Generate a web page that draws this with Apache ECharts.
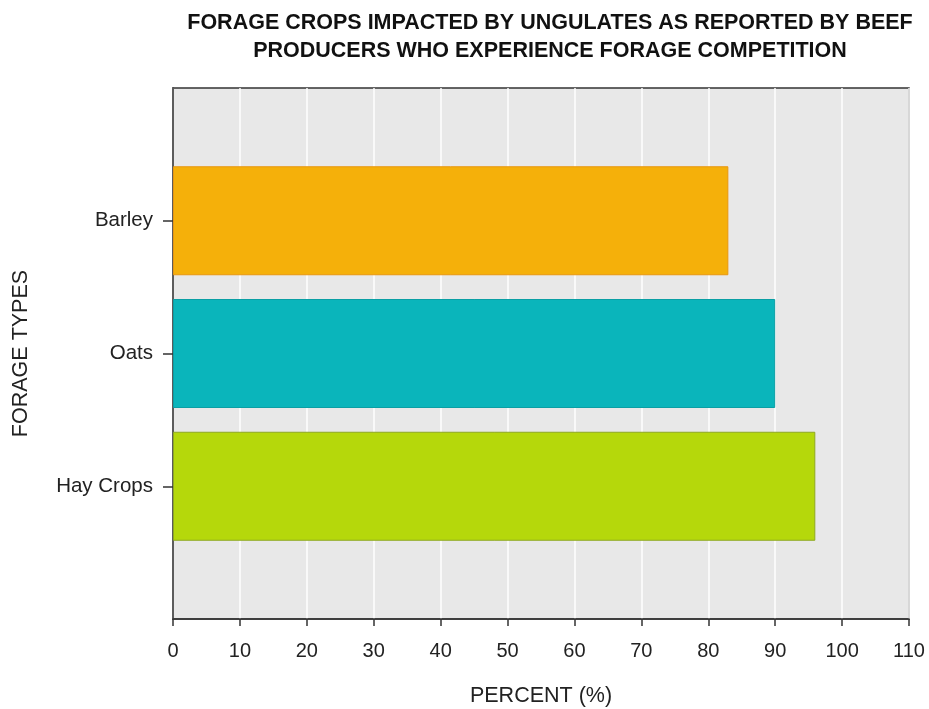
<!DOCTYPE html>
<html>
<head>
<meta charset="utf-8">
<script src="https://cdn.jsdelivr.net/npm/echarts@6/dist/echarts.min.js"></script>
<style>html,body{margin:0;padding:0;background:#fff;}#c{width:929px;height:709px;}</style>
</head>
<body>
<div id="c"></div>
<script>
const categories = ['', 'Hay Crops', 'Oats', 'Barley', ''];
const values = [null, 96, 90, 83, null];
const xTicks = [0, 10, 20, 30, 40, 50, 60, 70, 80, 90, 100, 110];
const barColors = ['#000', '#B5D80B', '#0AB5BB', '#F5B00A', '#000'];
const barBorders = ['#000', '#8FA820', '#0A9FA4', '#E8960F', '#000'];

const FONT = '"Liberation Sans", Arial, sans-serif';
const chart = echarts.init(document.getElementById('c'), null, {renderer: 'canvas'});
chart.setOption({
  animation: false,
  backgroundColor: '#ffffff',
  title: {
    text: 'FORAGE CROPS IMPACTED BY UNGULATES AS REPORTED BY BEEF\nPRODUCERS WHO EXPERIENCE FORAGE COMPETITION',
    left: 545, top: 4, textAlign: 'center',
    textStyle: {fontFamily: FONT, fontWeight: 'bold', fontSize: 21.5, color: '#111', lineHeight: 28}
  },
  grid: {left: 173, right: 20, top: 88, bottom: 90, show: true, backgroundColor: '#E8E8E8', borderColor: '#333', borderWidth: 1.5, outerBoundsMode: 'none', containLabel: false},
  xAxis: {
    type: 'value', min: xTicks[0], max: xTicks[xTicks.length - 1], interval: 10,
    name: 'PERCENT (%)', nameLocation: 'middle', nameGap: 66,
    nameTextStyle: {fontFamily: FONT, fontSize: 21.5, color: '#222'},
    axisLine: {show: true, lineStyle: {color: '#333', width: 1.5}},
    axisTick: {show: true, length: 7, lineStyle: {color: '#333', width: 1.5}},
    axisLabel: {fontFamily: FONT, fontSize: 20, color: '#222', margin: 22},
    splitLine: {show: true, lineStyle: {color: '#ffffff', width: 1.5}}
  },
  yAxis: {
    type: 'category', data: categories, boundaryGap: false,
    name: 'FORAGE TYPES', nameLocation: 'middle', nameGap: 141, nameRotate: 90,
    nameTextStyle: {fontFamily: FONT, fontSize: 21.5, color: '#222'},
    axisLine: {show: true, lineStyle: {color: '#333', width: 1.5}},
    axisTick: {show: true, length: 10, interval: function (i, v) { return v !== ''; }, lineStyle: {color: '#333', width: 1.5}},
    axisLabel: {fontFamily: FONT, fontSize: 20.5, color: '#222', margin: 20, interval: 0},
    splitLine: {show: false}
  },
  series: [{
    type: 'bar',
    barWidth: 109,
    data: values.map((v, i) => ({value: v, itemStyle: {color: barColors[i], borderColor: barBorders[i], borderWidth: 1}}))
  }]
});
</script>
</body>
</html>
